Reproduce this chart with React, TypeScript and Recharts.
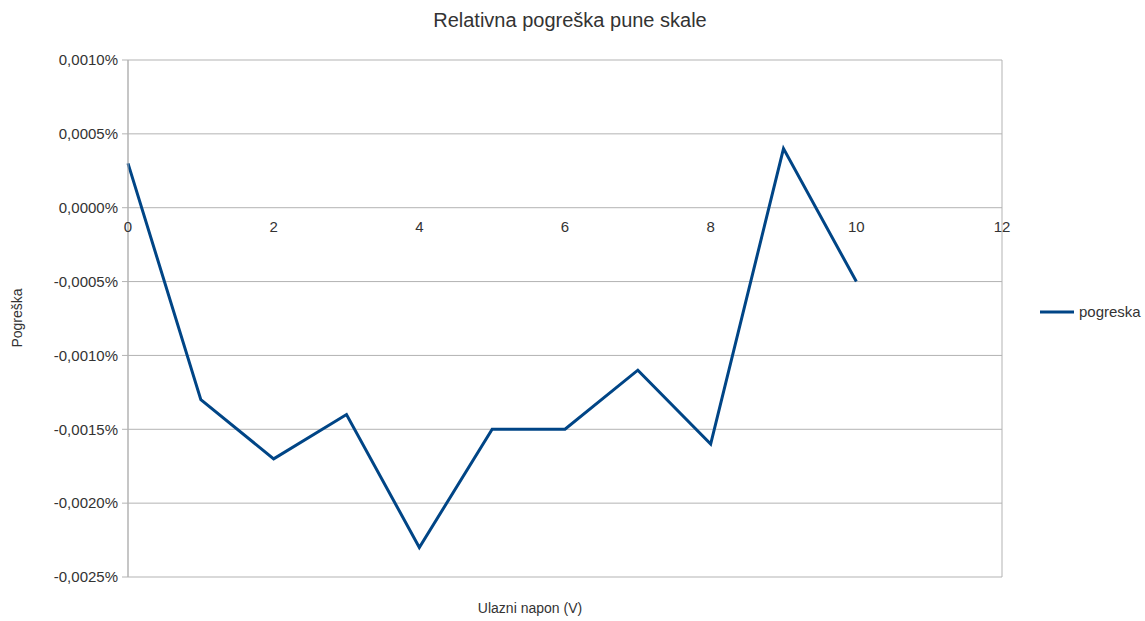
import React from 'react';
import { LineChart, Line, XAxis, YAxis, CartesianGrid, ReferenceDot } from 'recharts';

const voltages = [0, 1, 2, 3, 4, 5, 6, 7, 8, 9, 10];
const errors = [0.0003, -0.0013, -0.0017, -0.0014, -0.0023, -0.0015, -0.0015, -0.0011, -0.0016, 0.0004, -0.0005];
const xTicks = [0, 2, 4, 6, 8, 10, 12];
const yTicks = [-0.0025, -0.002, -0.0015, -0.001, -0.0005, 0, 0.0005, 0.001];
const seriesName = 'pogreska';
const title = 'Relativna pogreška pune skale';
const xLabel = 'Ulazni napon (V)';
const yLabel = 'Pogreška';

const data = voltages.map((v, i) => ({ x: v, y: errors[i] }));

const fmtY = (v: number) => {
  const s = Math.abs(v) < 1e-12 ? '0,0000' : v.toFixed(4).replace('.', ',');
  return s + '%';
};

const FONT = '"Liberation Sans", Arial, sans-serif';
const TEXT = '#333333';
const GRID = '#b3b3b3';
const LINE = '#004586';

export default function App() {
  return (
    <div style={{ position: 'absolute', left: 0, top: 0, width: 1145, height: 621, background: '#fff' }}>
      <div style={{ position: 'absolute', left: 0, top: 9, width: 1140, textAlign: 'center', fontFamily: FONT, fontSize: 20, color: TEXT }}>
        {title}
      </div>
      <div style={{ position: 'absolute', left: 0, top: 600, width: 1060, textAlign: 'center', fontFamily: FONT, fontSize: 14, color: TEXT }}>
        {xLabel}
      </div>
      <div style={{ position: 'absolute', left: 17, top: 318, transform: 'translate(-50%, -50%) rotate(-90deg)', fontFamily: FONT, fontSize: 14, color: TEXT, whiteSpace: 'nowrap' }}>
        {yLabel}
      </div>
      <div style={{ position: 'absolute', left: 1040, top: 303, display: 'flex', alignItems: 'center', fontFamily: FONT, fontSize: 15, color: TEXT }}>
        <svg width={34} height={6} style={{ marginRight: 5 }}>
          <line x1={0} y1={3} x2={34} y2={3} stroke={LINE} strokeWidth={3} />
        </svg>
        <span>{seriesName}</span>
      </div>
      <LineChart width={1145} height={621} data={data} margin={{ top: 60, right: 143, bottom: 44, left: 8 }}>
        <CartesianGrid stroke={GRID} strokeWidth={1} />
        <XAxis dataKey="x" type="number" domain={[0, 12]} ticks={xTicks} tick={false} tickLine={false} axisLine={false} height={0} />
        <YAxis
          type="number"
          domain={[-0.0025, 0.001]}
          ticks={yTicks}
          tickFormatter={fmtY}
          width={120}
          interval={0}
          axisLine={{ stroke: GRID }}
          tickLine={{ stroke: GRID }}
          tickSize={6}
          tickMargin={4}
          tick={{ fill: TEXT, fontSize: 15, fontFamily: FONT }}
        />
        {xTicks.map((t) => (
          <ReferenceDot
            key={t}
            x={t}
            y={0}
            r={0}
            fill="none"
            stroke="none"
            ifOverflow="visible"
            label={{ value: String(t), position: 'bottom', offset: 14, fill: TEXT, fontSize: 15, fontFamily: FONT }}
          />
        ))}
        <Line type="linear" dataKey="y" name={seriesName} stroke={LINE} strokeWidth={3} dot={false} isAnimationActive={false} />
      </LineChart>
    </div>
  );
}
